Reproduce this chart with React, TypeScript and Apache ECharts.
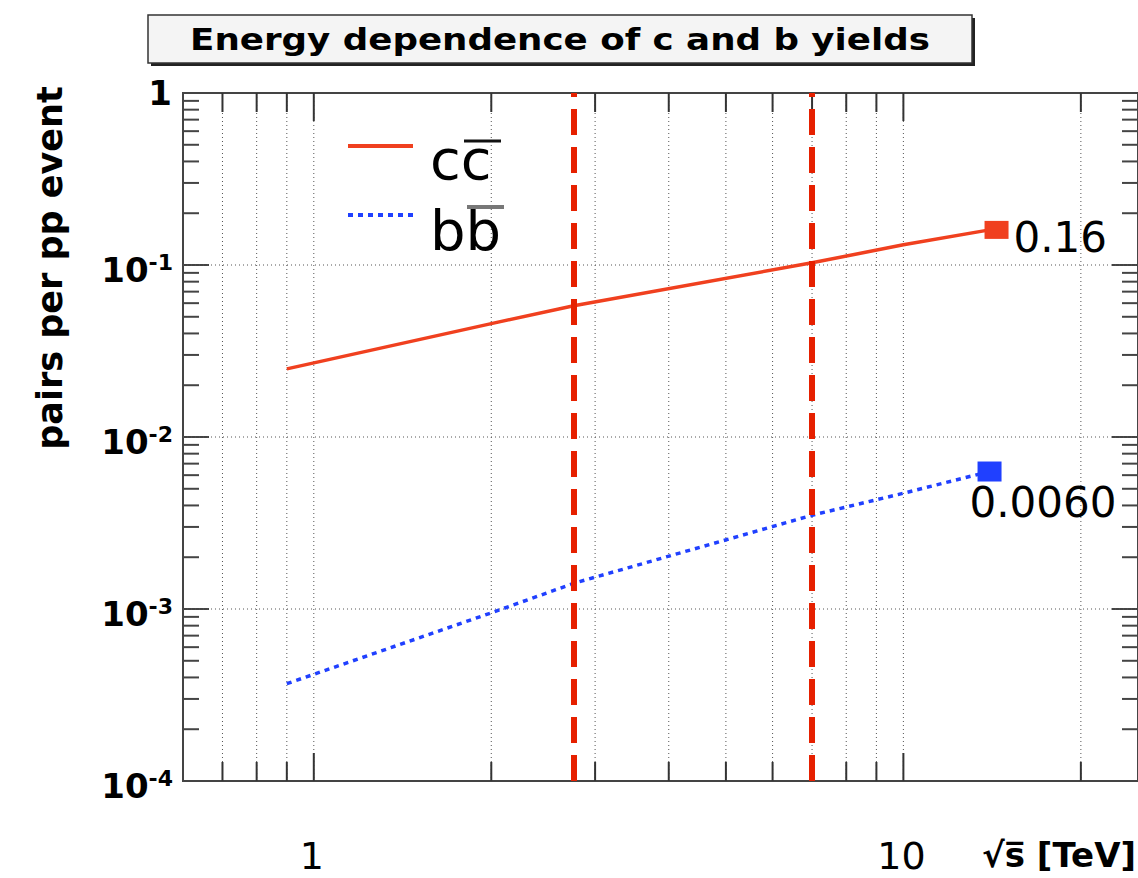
import React, { useEffect, useRef } from 'react';
import * as echarts from 'echarts';

// ---- data ----
const xTicks = [0.7, 0.8, 0.9, 1, 2, 3, 4, 5, 6, 7, 8, 9, 10, 20];
const xLabeled = [1, 10];
const yDecadeExps = [-4, -3, -2, -1, 0];
const yMinorSteps = [2, 3, 4, 5, 6, 7, 8, 9];
const ccEnergies = [0.9, 2, 2.76, 7, 10, 14];
const ccValues = [0.0249, 0.0456, 0.058, 0.103, 0.131, 0.16];
const bbEnergies = [0.9, 2, 2.76, 7, 10, 14];
const bbValues = [3.68e-4, 9.5e-4, 1.41e-3, 3.51e-3, 4.71e-3, 6.3e-3];
const ccEndLabel = '0.16';
const bbEndLabel = '0.0060';
const beamEnergies = [2.76, 7];
const X_MIN = 0.6;
const X_MAX = 25;
const Y_MIN = 1e-4;
const Y_MAX = 1;

const FONT = 'DejaVu Sans';
const RED = '#f0401f';
const BLUE = '#2040ff';

export default function App() {
  const ref = useRef<HTMLDivElement>(null);
  useEffect(() => {
    if (!ref.current) return;
    const chart = echarts.init(ref.current, undefined, { renderer: 'svg' });

    const yTickData: number[][] = [];
    yDecadeExps.forEach((e) => {
      yTickData.push([X_MIN, Math.pow(10, e), 1, e]);
      if (e < 0) {
        yMinorSteps.forEach((m) => yTickData.push([X_MIN, m * Math.pow(10, e), 0, e]));
      }
    });

    const ccData = ccEnergies.map((e, i) => [e, ccValues[i]]);
    const bbData = bbEnergies.map((e, i) => [e, bbValues[i]]);
    const ccLast = ccData[ccData.length - 1];
    const bbLast = bbData[bbData.length - 1];

    const option: any = {
      animation: false,
      backgroundColor: '#ffffff',
      grid: {
        left: 183,
        top: 93,
        width: 957,
        height: 688,
        show: true,
        borderColor: '#444',
        borderWidth: 2,
        backgroundColor: 'transparent',
        containLabel: false,
      },
      xAxis: {
        type: 'log',
        logBase: 10,
        min: X_MIN,
        max: X_MAX,
        axisLine: { show: false },
        axisTick: { show: false },
        axisLabel: { show: false },
        splitLine: { show: false },
        minorTick: { show: false },
      },
      yAxis: {
        type: 'log',
        logBase: 10,
        min: Y_MIN,
        max: Y_MAX,
        axisLine: { show: false },
        axisTick: { show: false },
        axisLabel: { show: false },
        splitLine: { show: false },
        minorTick: { show: false },
      },
      series: [
        {
          type: 'custom',
          silent: true,
          clip: false,
          z: 1,
          data: xTicks.map((v) => [v, Y_MIN]),
          encode: { x: 0, y: 1 },
          renderItem: (params: any, api: any) => {
            const xv = api.value(0);
            const b = api.coord([xv, Y_MIN]);
            const t = api.coord([xv, Y_MAX]);
            const major = xLabeled.indexOf(xv) >= 0;
            const len = major ? 28 : 19;
            const children: any[] = [
              {
                type: 'line',
                shape: { x1: b[0], y1: t[1], x2: b[0], y2: b[1] },
                style: { stroke: '#555', lineWidth: 1, lineDash: [1, 3] },
              },
              {
                type: 'line',
                shape: { x1: b[0], y1: b[1], x2: b[0], y2: b[1] - len },
                style: { stroke: '#333', lineWidth: 2 },
              },
              {
                type: 'line',
                shape: { x1: b[0], y1: t[1], x2: b[0], y2: t[1] + len },
                style: { stroke: '#333', lineWidth: 2 },
              },
            ];
            if (major) {
              children.push({
                type: 'text',
                x: b[0] - 2,
                y: b[1] + 75,
                style: {
                  text: String(xv),
                  fontFamily: FONT,
                  fontSize: 38,
                  fill: '#000',
                  align: 'center',
                  verticalAlign: 'middle',
                },
              });
            }
            return { type: 'group', children };
          },
        },
        {
          type: 'custom',
          silent: true,
          clip: false,
          z: 1,
          data: yTickData,
          encode: { x: 0, y: 1 },
          renderItem: (params: any, api: any) => {
            const yv = api.value(1);
            const major = api.value(2) === 1;
            const exp = api.value(3);
            const l = api.coord([X_MIN, yv]);
            const r = api.coord([X_MAX, yv]);
            const len = major ? 26 : 16;
            const children: any[] = [
              {
                type: 'line',
                shape: { x1: l[0], y1: l[1], x2: l[0] + len, y2: l[1] },
                style: { stroke: '#444', lineWidth: 2 },
              },
              {
                type: 'line',
                shape: { x1: r[0] - len, y1: r[1], x2: r[0], y2: r[1] },
                style: { stroke: '#444', lineWidth: 2 },
              },
            ];
            if (major && exp !== 0 && exp !== -4) {
              children.push({
                type: 'line',
                shape: { x1: l[0], y1: l[1], x2: r[0], y2: r[1] },
                style: { stroke: '#555', lineWidth: 1, lineDash: [1, 3] },
              });
            }
            if (major) {
              if (exp === 0) {
                children.push({
                  type: 'text',
                  x: l[0] - 11,
                  y: l[1],
                  style: {
                    text: '1',
                    fontFamily: FONT,
                    fontWeight: 'bold',
                    fontSize: 34,
                    fill: '#000',
                    align: 'right',
                    verticalAlign: 'middle',
                  },
                });
              } else {
                children.push({
                  type: 'text',
                  x: l[0] - 10,
                  y: l[1] + 5,
                  style: {
                    text: '{b|10}{s|' + exp + '}',
                    align: 'right',
                    verticalAlign: 'middle',
                    fill: '#000',
                    rich: {
                      b: { fontFamily: FONT, fontWeight: 'bold', fontSize: 34, lineHeight: 38, fill: '#000', color: '#000' },
                      s: { fontFamily: FONT, fontWeight: 'bold', fontSize: 22, lineHeight: 22, verticalAlign: 'top', fill: '#000', color: '#000' },
                    },
                  },
                });
              }
            }
            return { type: 'group', children };
          },
        },
        {
          name: 'cc',
          type: 'line',
          data: ccData,
          showSymbol: false,
          symbol: 'none',
          z: 3,
          lineStyle: { color: RED, width: 3.5 },
          markLine: {
            silent: true,
            symbol: 'none',
            label: { show: false },
            lineStyle: { color: '#e62000', width: 6, type: [26, 12] },
            data: beamEnergies.map((e) => ({ xAxis: e })),
            z: 5,
          },
        },
        {
          name: 'bb',
          type: 'line',
          data: bbData,
          showSymbol: false,
          symbol: 'none',
          z: 3,
          lineStyle: { color: BLUE, width: 3.5, type: [5, 5] },
        },
        {
          type: 'scatter',
          z: 6,
          data: [ccLast],
          symbol: 'rect',
          symbolSize: [24, 18],
          symbolOffset: [7, 0],
          itemStyle: { color: RED, opacity: 1 },
          label: {
            show: true,
            position: 'right',
            distance: 5,
            offset: [0, 8],
            formatter: ccEndLabel,
            fontFamily: FONT,
            fontSize: 42,
            color: '#000',
          },
        },
        {
          type: 'scatter',
          z: 6,
          data: [bbLast],
          symbol: 'rect',
          symbolSize: [24, 20],
          itemStyle: { color: BLUE, opacity: 1 },
          label: {
            show: true,
            position: 'right',
            distance: 5,
            offset: [-37, 31],
            formatter: bbEndLabel,
            fontFamily: FONT,
            fontSize: 42,
            color: '#000',
          },
        },
      ],
      graphic: {
        elements: [
          // title box
          { type: 'rect', shape: { x: 151, y: 18, width: 824, height: 48 }, style: { fill: '#222' }, z: 10 },
          { type: 'rect', shape: { x: 148, y: 15, width: 824, height: 48 }, style: { fill: '#f4f4f4', stroke: '#333', lineWidth: 1.5 }, z: 11 },
          {
            type: 'text',
            x: 560,
            y: 39,
            scaleX: 1.15,
            z: 12,
            style: {
              text: 'Energy dependence of c and b yields',
              fontFamily: FONT,
              fontWeight: 'bold',
              fontSize: 31,
              fill: '#000',
              align: 'center',
              verticalAlign: 'middle',
              textAlign: 'center',
              textVerticalAlign: 'middle',
            },
          },
          // y title
          {
            type: 'text',
            x: 50,
            y: 268,
            rotation: Math.PI / 2,
            z: 12,
            style: {
              text: 'pairs per pp event',
              fontFamily: FONT,
              fontWeight: 'bold',
              fontSize: 35,
              fill: '#000',
              align: 'center',
              verticalAlign: 'middle',
              textAlign: 'center',
              textVerticalAlign: 'middle',
            },
          },
          // x title
          {
            type: 'text',
            x: 1136,
            y: 855,
            z: 12,
            style: {
              text: '√s\u0305 [TeV]',
              fontFamily: FONT,
              fontWeight: 'bold',
              fontSize: 34,
              fill: '#000',
              align: 'right',
              verticalAlign: 'middle',
              textAlign: 'right',
              textVerticalAlign: 'middle',
            },
          },
          // legend
          { type: 'line', shape: { x1: 348, y1: 146, x2: 413, y2: 146 }, style: { stroke: RED, lineWidth: 4 }, z: 12 },
          {
            type: 'text',
            x: 430,
            y: 159,
            z: 12,
            style: {
              text: 'cc',
              fontFamily: FONT,
              fontSize: 56,
              fill: '#000',
              align: 'left',
              verticalAlign: 'middle',
              textAlign: 'left',
              textVerticalAlign: 'middle',
            },
          },
          { type: 'line', shape: { x1: 464, y1: 141, x2: 501, y2: 141 }, style: { stroke: '#111', lineWidth: 3 }, z: 12 },
          { type: 'line', shape: { x1: 348, y1: 215, x2: 413, y2: 215 }, style: { stroke: BLUE, lineWidth: 4, lineDash: [5, 5] }, z: 12 },
          {
            type: 'text',
            x: 430,
            y: 230,
            z: 12,
            style: {
              text: 'bb',
              fontFamily: FONT,
              fontSize: 56,
              fill: '#000',
              align: 'left',
              verticalAlign: 'middle',
              textAlign: 'left',
              textVerticalAlign: 'middle',
            },
          },
          { type: 'line', shape: { x1: 467, y1: 207, x2: 504, y2: 207 }, style: { stroke: '#777', lineWidth: 4 }, z: 12 },
        ],
      },
    };

    chart.setOption(option);
    return () => {
      chart.dispose();
    };
  }, []);

  return (
    <div
      ref={ref}
      style={{ position: 'absolute', left: 0, top: 0, width: 1138, height: 878, background: '#fff' }}
    />
  );
}
